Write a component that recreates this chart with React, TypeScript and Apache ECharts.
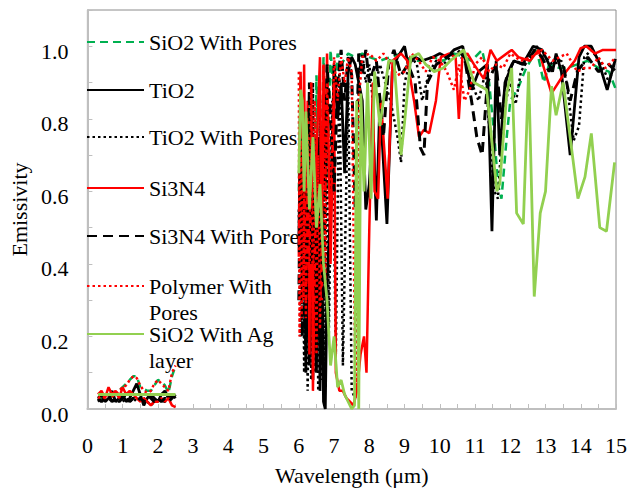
import React, { useEffect, useRef } from "react";
import * as echarts from "echarts";

// ---------- data ----------
const wlShort = [0.3, 0.4, 0.5, 0.6, 0.7, 0.8, 0.9, 1.0, 1.1, 1.2, 1.3, 1.4, 1.5, 1.6, 1.7, 1.8, 1.9, 2.0, 2.1, 2.2, 2.3, 2.4, 2.5];

const sio2PoresShort = [0.03, 0.03, 0.035, 0.03, 0.035, 0.04, 0.05, 0.06, 0.07, 0.08, 0.09, 0.09, 0.06, 0.055, 0.05, 0.05, 0.065, 0.08, 0.075, 0.065, 0.045, 0.09, 0.12];
const tio2Short = [0.03, 0.04, 0.02, 0.03, 0.05, 0.02, 0.03, 0.04, 0.02, 0.03, 0.05, 0.07, 0.04, 0.01, 0.03, 0.04, 0.03, 0.02, 0.04, 0.05, 0.03, 0.04, 0.03];
const tio2PoresShort = [0.02, 0.03, 0.02, 0.03, 0.02, 0.03, 0.04, 0.02, 0.03, 0.02, 0.03, 0.02, 0.04, 0.03, 0.02, 0.01, 0.02, 0.03, 0.02, 0.02, 0.03, 0.04, 0.03];
const si3n4Short = [0.04, 0.05, 0.03, 0.06, 0.04, 0.05, 0.03, 0.06, 0.04, 0.05, 0.04, 0.03, 0.02, 0.03, 0.02, 0.01, 0.02, 0.02, 0.03, 0.02, 0.03, 0.01, 0.005];
const si3n4PoresShort = [0.03, 0.02, 0.03, 0.04, 0.02, 0.03, 0.02, 0.03, 0.04, 0.02, 0.03, 0.02, 0.03, 0.02, 0.04, 0.03, 0.02, 0.03, 0.02, 0.03, 0.02, 0.03, 0.04];
const polymerShort = [0.03, 0.035, 0.03, 0.04, 0.035, 0.04, 0.05, 0.06, 0.065, 0.08, 0.09, 0.085, 0.065, 0.05, 0.045, 0.05, 0.07, 0.08, 0.07, 0.06, 0.05, 0.1, 0.12];
const sio2AgShort = [0.04, 0.04, 0.04, 0.04, 0.04, 0.04, 0.04, 0.04, 0.04, 0.04, 0.04, 0.04, 0.04, 0.04, 0.04, 0.04, 0.04, 0.04, 0.04, 0.04, 0.04, 0.04, 0.04];

const sio2PoresLong: number[][] = [
  [6.0, 0.6], [6.05, 0.92], [6.1, 0.35], [6.15, 0.8], [6.2, 0.25], [6.3, 0.85], [6.4, 0.3], [6.5, 0.92], [6.6, 0.4], [6.7, 0.97],
  [6.8, 0.6], [6.9, 0.99], [7.0, 0.85], [7.1, 0.98], [7.2, 0.95], [7.4, 0.98], [7.6, 0.97], [7.8, 0.98], [8.0, 0.97], [8.3, 0.96],
  [8.6, 0.97], [8.9, 0.98], [9.2, 0.96], [9.5, 0.96], [9.8, 0.97], [10.1, 0.96], [10.4, 0.98], [10.7, 0.97], [10.9, 0.96], [11.2, 0.99],
  [11.4, 0.9], [11.55, 0.75], [11.65, 0.62], [11.75, 0.58], [11.9, 0.75], [12.0, 0.85], [12.2, 0.88], [12.45, 0.94], [12.75, 0.99], [12.95, 0.9],
  [13.1, 0.95], [13.4, 0.94], [13.6, 0.94], [13.9, 0.95], [14.2, 0.96], [14.5, 0.94], [14.8, 0.93], [15.0, 0.88],
];
const tio2Long: number[][] = [
  [6.0, 0.45], [6.05, 0.85], [6.1, 0.3], [6.15, 0.7], [6.2, 0.1], [6.25, 0.6], [6.3, 0.12], [6.35, 0.8], [6.4, 0.08], [6.45, 0.55],
  [6.5, 0.1], [6.55, 0.75], [6.6, 0.05], [6.65, 0.5], [6.7, 0.02], [6.75, 0.0], [6.8, 0.35], [6.9, 0.55], [7.0, 0.95], [7.1, 0.8],
  [7.2, 0.9], [7.3, 0.65], [7.4, 0.93], [7.5, 0.97], [7.6, 0.95], [7.7, 0.9], [7.8, 0.85], [7.9, 0.55], [8.0, 0.62], [8.1, 0.8],
  [8.2, 0.52], [8.3, 0.85], [8.5, 0.51], [8.65, 0.93], [8.8, 0.97], [9.0, 1.0], [9.1, 0.95], [9.3, 0.97], [9.5, 0.96], [9.8, 0.97],
  [10.0, 0.98], [10.2, 0.97], [10.4, 0.99], [10.65, 1.0], [10.9, 0.88], [11.1, 0.93], [11.35, 0.95], [11.48, 0.49], [11.6, 0.96], [11.7, 0.7],
  [11.85, 0.9], [12.1, 0.96], [12.35, 0.95], [12.65, 1.0], [12.9, 0.99], [13.2, 0.93], [13.3, 0.98], [13.45, 0.93], [13.7, 0.7], [13.95, 0.97],
  [14.1, 1.0], [14.3, 1.0], [14.5, 0.96], [14.75, 0.88], [14.97, 0.96],
];
const tio2PoresLong: number[][] = [
  [6.0, 0.55], [6.05, 0.2], [6.1, 0.8], [6.15, 0.1], [6.2, 0.7], [6.25, 0.05], [6.3, 0.6], [6.35, 0.08], [6.4, 0.9], [6.45, 0.1],
  [6.5, 0.75], [6.55, 0.05], [6.6, 0.85], [6.65, 0.08], [6.7, 0.6], [6.75, 0.1], [6.8, 0.9], [6.85, 0.2], [6.95, 0.85], [7.05, 0.15],
  [7.15, 0.95], [7.25, 0.12], [7.4, 0.9], [7.5, 0.05], [7.6, 0.03], [7.7, 0.92], [7.8, 0.98], [7.9, 0.9], [8.0, 0.95], [8.1, 0.85],
  [8.3, 0.95], [8.6, 0.85], [8.8, 0.75], [8.9, 0.68], [9.0, 0.9], [9.2, 0.97], [9.35, 0.95], [9.5, 0.85], [9.7, 0.93], [9.9, 0.96],
  [10.1, 0.95], [10.3, 0.97], [10.5, 0.98], [10.7, 0.96], [10.9, 0.9], [11.1, 0.85], [11.3, 0.93], [11.45, 0.7], [11.55, 0.6], [11.65, 0.58],
  [11.8, 0.82], [12.0, 0.9], [12.15, 0.84], [12.3, 0.93], [12.55, 0.97], [12.75, 1.0], [13.0, 0.97], [13.2, 0.95], [13.45, 0.96], [13.6, 0.9],
  [13.8, 0.74], [13.95, 0.78], [14.1, 0.97], [14.3, 0.99], [14.6, 0.95], [14.8, 0.9], [15.0, 0.97],
];
const si3n4Long: number[][] = [
  [6.0, 0.42], [6.05, 0.93], [6.1, 0.5], [6.15, 0.95], [6.2, 0.3], [6.25, 0.85], [6.3, 0.15], [6.35, 0.9], [6.4, 0.05], [6.5, 0.7],
  [6.6, 0.97], [6.65, 0.3], [6.7, 0.95], [6.75, 0.6], [6.8, 0.98], [6.9, 0.4], [7.0, 0.9], [7.05, 0.1], [7.15, 0.05], [7.25, 0.05],
  [7.35, 0.03], [7.45, 0.02], [7.55, 0.01], [7.65, 0.05], [7.75, 0.15], [7.85, 0.2], [7.92, 0.1], [8.0, 0.5], [8.1, 0.9], [8.15, 0.6],
  [8.25, 0.58], [8.33, 0.85], [8.52, 0.58], [8.66, 0.96], [8.9, 0.98], [9.08, 0.96], [9.27, 0.85], [9.41, 0.75], [9.55, 0.77], [9.7, 0.76],
  [9.89, 0.85], [10.03, 0.97], [10.26, 0.98], [10.45, 0.97], [10.54, 0.8], [10.64, 0.97], [10.78, 0.98], [10.97, 0.95], [11.25, 0.91], [11.44, 0.99],
  [11.62, 0.96], [12.04, 0.99], [12.23, 0.97], [12.56, 0.96], [12.8, 0.99], [13.17, 0.87], [13.5, 0.92], [13.83, 0.96], [14.0, 0.995], [14.16, 1.0],
  [14.4, 0.98], [14.63, 0.99], [15.0, 0.99],
];
const si3n4PoresLong: number[][] = [
  [6.0, 0.3], [6.05, 0.75], [6.1, 0.2], [6.15, 0.65], [6.2, 0.15], [6.3, 0.9], [6.35, 0.4], [6.45, 0.6], [6.5, 0.2], [6.6, 0.55],
  [6.7, 0.3], [6.8, 0.95], [6.9, 0.8], [7.0, 0.6], [7.1, 0.9], [7.2, 0.99], [7.3, 0.85], [7.4, 0.97], [7.5, 0.92], [7.6, 0.55],
  [7.7, 0.98], [7.8, 0.92], [7.9, 0.99], [8.0, 0.9], [8.2, 0.96], [8.4, 0.75], [8.55, 0.95], [8.7, 0.99], [8.9, 0.92], [9.1, 0.95],
  [9.3, 0.9], [9.45, 0.72], [9.55, 0.7], [9.65, 0.9], [9.9, 0.95], [10.2, 0.97], [10.5, 0.99], [10.7, 0.97], [10.9, 0.85], [11.05, 0.75],
  [11.2, 0.7], [11.35, 0.9], [11.5, 0.93], [11.6, 0.95], [11.75, 0.8], [11.9, 0.92], [12.1, 0.96], [12.4, 0.95], [12.7, 0.99], [12.9, 0.97],
  [13.1, 0.93], [13.3, 0.97], [13.5, 0.95], [13.7, 0.85], [13.9, 0.93], [14.2, 0.97], [14.5, 0.93], [14.8, 0.95], [15.0, 0.93],
];
const polymerLong: number[][] = [
  [6.0, 0.93], [6.02, 0.2], [6.05, 0.9], [6.08, 0.25], [6.1, 0.85], [6.13, 0.3], [6.17, 0.8], [6.2, 0.25], [6.25, 0.75], [6.3, 0.3],
  [6.35, 0.9], [6.4, 0.2], [6.45, 0.85], [6.5, 0.15], [6.55, 0.7], [6.6, 0.22], [6.7, 0.95], [6.75, 0.35], [6.8, 0.9], [6.9, 0.55],
  [7.0, 0.97], [7.1, 0.85], [7.2, 0.97], [7.3, 0.9], [7.4, 0.97], [7.5, 0.93], [7.6, 0.1], [7.65, 0.05], [7.7, 0.85], [7.8, 0.97],
  [8.0, 0.98], [8.2, 0.96], [8.4, 0.98], [8.6, 0.95], [8.8, 0.92], [9.0, 0.93], [9.2, 0.98], [9.4, 0.96], [9.6, 0.93], [9.8, 0.97],
  [10.0, 0.96], [10.2, 0.93], [10.4, 0.88], [10.55, 0.95], [10.7, 0.85], [10.85, 0.88], [11.0, 0.95], [11.2, 0.97], [11.4, 0.93], [11.6, 0.95],
  [11.8, 0.94], [12.0, 0.98], [12.3, 0.96], [12.6, 0.97], [12.9, 0.99], [13.2, 0.96], [13.4, 0.97], [13.6, 0.98], [13.9, 0.93], [14.1, 0.94],
  [14.3, 0.94], [14.5, 0.97], [14.7, 0.94], [15.0, 0.97],
];
const sio2AgLong: number[][] = [
  [6.0, 0.65], [6.05, 0.88], [6.1, 0.85], [6.15, 0.6], [6.2, 0.82], [6.3, 0.55], [6.4, 0.75], [6.5, 0.5], [6.6, 0.62], [6.7, 0.4],
  [6.8, 0.3], [6.9, 0.12], [7.0, 0.2], [7.1, 0.06], [7.2, 0.08], [7.3, 0.04], [7.4, 0.02], [7.5, 0.0], [7.58, 0.01], [7.64, 0.85],
  [7.7, 0.0], [7.76, 0.87], [7.85, 0.6], [7.95, 0.9], [8.05, 0.58], [8.15, 0.93], [8.3, 0.78], [8.4, 0.85], [8.55, 0.96], [8.7, 0.96],
  [8.9, 0.7], [9.0, 0.79], [9.18, 0.97], [9.4, 0.98], [9.6, 0.95], [9.84, 0.93], [10.1, 0.94], [10.3, 0.96], [10.68, 0.99], [10.97, 0.9],
  [11.33, 0.88], [11.62, 0.6], [11.7, 0.62], [11.9, 0.87], [12.04, 0.94], [12.18, 0.54], [12.37, 0.51], [12.52, 0.93], [12.68, 0.31], [12.85, 0.54],
  [13.0, 0.6], [13.17, 0.89], [13.3, 0.81], [13.5, 0.9], [13.92, 0.58], [14.12, 0.64], [14.3, 0.76], [14.54, 0.5], [14.73, 0.49], [14.96, 0.68],
];

const seriesNames = ["SiO2 With Pores", "TiO2", "TiO2 With Pores", "Si3N4", "Si3N4 With Pores", "Polymer With Pores", "SiO2 With Ag layer"];
const legendTexts = ["SiO2 With Pores", "TiO2", "TiO2 With Pores", "Si3N4", "Si3N4 With Pores", "Polymer With\nPores", "SiO2 With Ag\nlayer"];
const xTickLabels = ["0", "1", "2", "3", "4", "5", "6", "7", "8", "9", "10", "11", "12", "13", "14", "15"];
const yTickLabels = ["0.0", "0.2", "0.4", "0.6", "0.8", "1.0"];

const FONT = "Liberation Serif";

function joinData(short: number[], long: number[][]) {
  const a: any[] = wlShort.map((x, i) => [x, short[i]]);
  a.push([4.2, "-"]);
  return a.concat(long);
}

export default function App() {
  const ref = useRef<HTMLDivElement>(null);
  useEffect(() => {
    if (!ref.current) return;
    const chart = echarts.init(ref.current, undefined, { renderer: "svg" });

    const styles = [
      { color: "#00B050", type: [8, 5], width: 2.5 },
      { color: "#000000", type: "solid", width: 2.8 },
      { color: "#000000", type: [2.5, 3], width: 2.5 },
      { color: "#FF0000", type: "solid", width: 2.5 },
      { color: "#000000", type: [10, 6], width: 3 },
      { color: "#FF0000", type: [2.5, 3], width: 2.5 },
      { color: "#92D050", type: "solid", width: 2.8 },
    ];
    const datas = [
      joinData(sio2PoresShort, sio2PoresLong),
      joinData(tio2Short, tio2Long),
      joinData(tio2PoresShort, tio2PoresLong),
      joinData(si3n4Short, si3n4Long),
      joinData(si3n4PoresShort, si3n4PoresLong),
      joinData(polymerShort, polymerLong),
      joinData(sio2AgShort, sio2AgLong),
    ];

    const centers = [42, 90, 137, 188, 236, 286, 334];
    const legends = seriesNames.map((name, i) => {
      const two = legendTexts[i].includes("\n");
      return {
        show: true,
        data: [name],
        orient: "vertical",
        left: 86,
        top: two ? centers[i] - 39 : centers[i] - 13,
        padding: 0,
        itemWidth: 57,
        itemHeight: 14,
        z: 1,
        selectedMode: false,
        itemStyle: { opacity: 0 },
        formatter: () => (two ? "\n" + legendTexts[i] : legendTexts[i]),
        textStyle: {
          fontFamily: FONT,
          fontSize: 22,
          color: "#000",
          lineHeight: 26,
        },
      };
    });

    chart.setOption({
      animation: false,
      backgroundColor: "#fff",
      grid: { left: 86, top: 10, right: 12, bottom: 76, show: true, borderColor: "#8c8c8c", borderWidth: 1 },
      legend: legends,
      xAxis: {
        type: "value",
        min: 0,
        max: 15,
        interval: 0.5,
        name: "Wavelength (μm)",
        nameLocation: "middle",
        nameGap: 55,
        nameTextStyle: { fontFamily: FONT, fontSize: 22, color: "#000" },
        axisLine: { show: true, lineStyle: { color: "#bfbfbf", width: 2 } },
        axisTick: { show: true, inside: true, length: 5, lineStyle: { color: "#bfbfbf", width: 1 } },
        splitLine: { show: false },
        axisLabel: {
          fontFamily: FONT,
          fontSize: 22,
          color: "#000",
          margin: 25,
          formatter: (v: number) => {
            const r = Math.round(v);
            return Math.abs(v - r) < 1e-6 ? xTickLabels[r] ?? "" : "";
          },
        },
      },
      yAxis: {
        type: "value",
        min: 0,
        max: 1.1,
        interval: 0.1,
        name: "Emissivity",
        nameLocation: "middle",
        nameGap: 53,
        nameTextStyle: { fontFamily: FONT, fontSize: 22, color: "#000" },
        axisLine: { show: true, lineStyle: { color: "#bfbfbf", width: 2 } },
        axisTick: { show: true, inside: true, length: 5, lineStyle: { color: "#bfbfbf", width: 1 } },
        splitLine: { show: false },
        axisLabel: {
          color: "#000",
          margin: 19,
          formatter: (v: number) => {
            const t = Math.round(v * 10);
            return t % 2 === 0 && t <= 10 ? "{a|" + yTickLabels[t / 2] + "}" : "";
          },
          rich: {
            a: { fontFamily: FONT, fontSize: 22, color: "#000", padding: [10, 0, 0, 0] },
          },
        },
      },
      series: seriesNames.map((name, i) => ({
        name,
        type: "line",
        data: datas[i],
        showSymbol: false,
        symbol: "none",
        connectNulls: false,
        color: styles[i].color,
        lineStyle: { color: styles[i].color, type: styles[i].type, width: styles[i].width },
        z: 2 + i * 0.01,
      })),
    });
    return () => chart.dispose();
  }, []);
  return <div ref={ref} style={{ width: 630, height: 491, position: "absolute", left: 0, top: 0 }} />;
}
